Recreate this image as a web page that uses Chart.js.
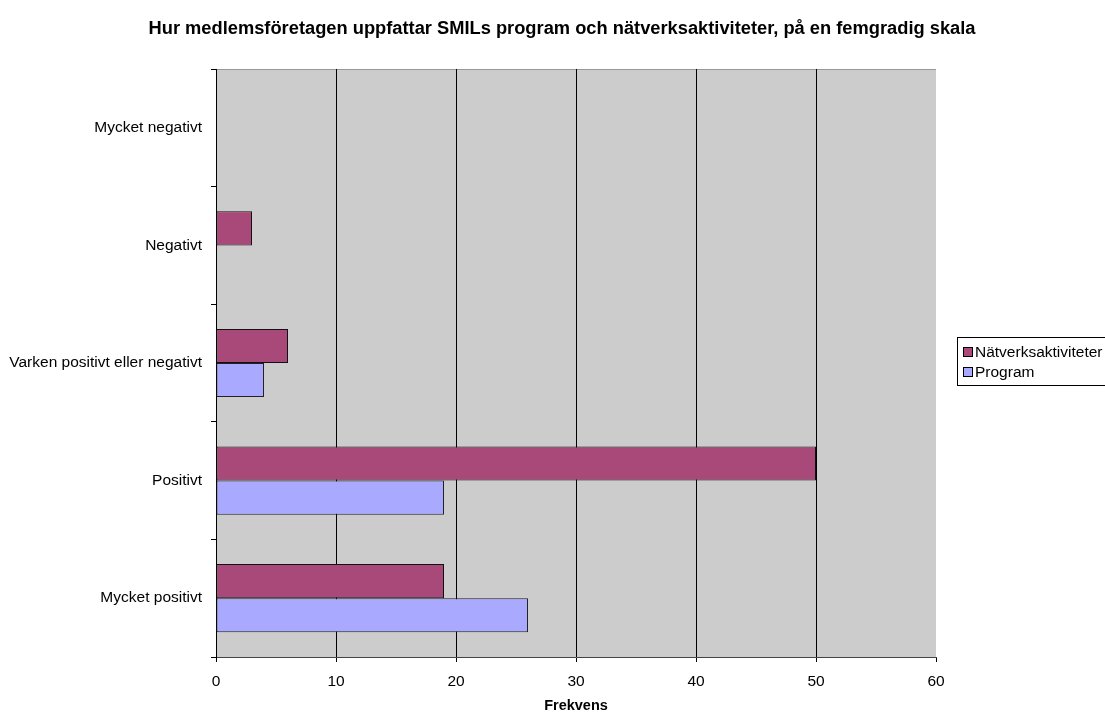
<!DOCTYPE html>
<html>
<head>
<meta charset="utf-8">
<script src="https://cdn.jsdelivr.net/npm/chart.js@4"></script>
<style>
  html, body { margin: 0; padding: 0; background: #ffffff; }
  #wrap { width: 1105px; height: 713px; position: relative; }
</style>
</head>
<body>
<div id="wrap"><canvas id="c" width="1105" height="713"></canvas></div>
<script>
const chartTitle = "Hur medlemsföretagen uppfattar SMILs program och nätverksaktiviteter, på en femgradig skala";
const categories = ["Mycket negativt", "Negativt", "Varken positivt eller negativt", "Positivt", "Mycket positivt"];
const seriesNames = ["Nätverksaktiviteter", "Program"];
const natverkValues = [0, 3, 6, 50, 19];
const programValues = [0, 0, 4, 19, 26];
const xTicks = [0, 10, 20, 30, 40, 50, 60];
const xTitle = "Frekvens";

const FONT = "'Liberation Sans', Arial, sans-serif";
const colors = ["#A9497A", "#A9A9FF"];

const bgPlugin = {
  id: "plotBg",
  beforeDraw(chart) {
    const { ctx, chartArea: a } = chart;
    ctx.save();
    ctx.fillStyle = "#CCCCCC";
    ctx.fillRect(a.left, a.top, a.right - a.left, a.bottom - a.top);
    ctx.strokeStyle = "#999999";
    ctx.lineWidth = 1;
    ctx.beginPath();
    ctx.moveTo(a.left, a.top + 0.5);
    ctx.lineTo(a.right, a.top + 0.5);
    ctx.stroke();
    ctx.restore();
  },
  afterDraw(chart) {
    const { ctx } = chart;
    ctx.save();
    ctx.fillStyle = "#000";
    ctx.font = "bold 18.3px " + FONT;
    ctx.textAlign = "center";
    ctx.textBaseline = "middle";
    ctx.fillText(chartTitle, 562, 29);
    const lx = 957.5, ly = 337.5, lw = 150, lh = 48;
    ctx.strokeStyle = "#000";
    ctx.lineWidth = 1;
    ctx.strokeRect(lx, ly, lw, lh);
    ctx.font = "15.5px " + FONT;
    ctx.textAlign = "left";
    chart.data.datasets.forEach((ds, i) => {
      const cy = 352 + i * 20;
      ctx.fillStyle = ds.backgroundColor;
      ctx.fillRect(963.5, cy - 4.5, 9, 9);
      ctx.strokeStyle = "#000";
      ctx.strokeRect(963.5, cy - 4.5, 9, 9);
      ctx.fillStyle = "#000";
      ctx.fillText(ds.label, 975, cy + 1);
    });
    ctx.restore();
  }
};

new Chart(document.getElementById("c"), {
  type: "bar",
  data: {
    labels: categories,
    datasets: [
      { label: seriesNames[0], data: natverkValues, backgroundColor: colors[0], borderColor: "#111", borderWidth: 1, borderSkipped: false },
      { label: seriesNames[1], data: programValues, backgroundColor: colors[1], borderColor: "#222", borderWidth: 1, borderSkipped: false }
    ]
  },
  options: {
    indexAxis: "y",
    responsive: false,
    animation: false,
    devicePixelRatio: 1,
    layout: { padding: { left: 0, right: 169, top: 69, bottom: 0 } },
    datasets: { bar: { categoryPercentage: 0.58, barPercentage: 1.0 } },
    plugins: {
      legend: { display: false },
      title: { display: false },
      tooltip: { enabled: false }
    },
    scales: {
      x: {
        min: 0, max: 60,
        afterBuildTicks(scale) { scale.ticks = xTicks.map(v => ({ value: v })); },
        afterFit(scale) { scale.height = 56; },
        grid: {
          color: ctx => (ctx.tick && ctx.tick.value === 60) ? "rgba(0,0,0,0)" : "#000",
          tickColor: "#000",
          tickLength: 5,
          drawTicks: true
        },
        border: { display: true, color: "#444", width: 1 },
        ticks: { color: "#000", font: { family: FONT, size: 15.5 }, padding: 10, maxRotation: 0 },
        title: { display: true, text: xTitle, color: "#000", font: { family: FONT, size: 14.5, weight: "bold", lineHeight: 1 }, padding: { top: 2, bottom: 0 } }
      },
      y: {
        afterFit(scale) { scale.width = 216; },
        grid: { drawOnChartArea: false, drawTicks: true, tickLength: 5, tickColor: "#000", offset: true },
        border: { display: true, color: "#000", width: 1 },
        ticks: { color: "#000", font: { family: FONT, size: 15.5 }, padding: 9 }
      }
    }
  },
  plugins: [bgPlugin]
});
</script>
</body>
</html>
